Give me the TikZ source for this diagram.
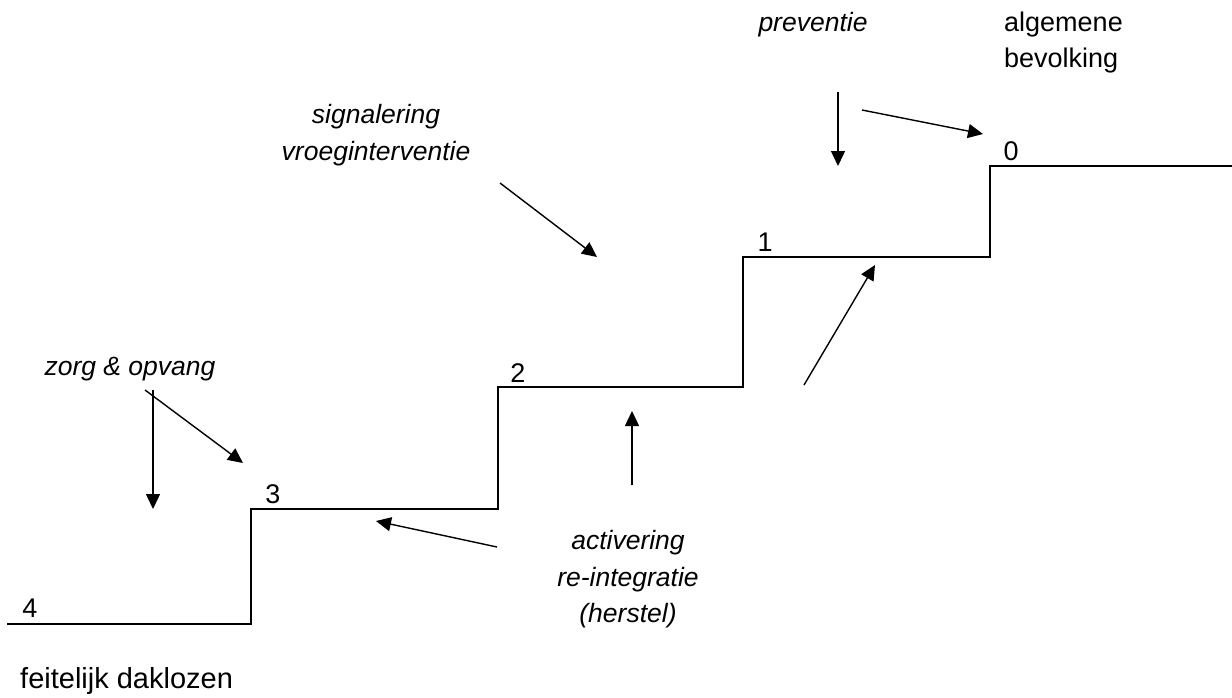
\documentclass[tikz,border=0pt]{standalone}
\usepackage{fontspec}
\setmainfont{Liberation Sans}
\usetikzlibrary{arrows.meta}
\begin{document}
\begin{tikzpicture}[x=1pt,y=-1pt,
  lbl/.style={font=\fontsize{27}{32}\selectfont, inner sep=0pt},
  ilbl/.style={font=\fontsize{26.5}{32}\selectfont\itshape, inner sep=0pt},
  stair/.style={line width=2pt},
  arr/.style={line width=1.4pt, -{Triangle[length=15pt,width=14pt]}}]
\useasboundingbox (0,0) rectangle (1232,697);
% texts
\node[ilbl] (prev) at (813,25) {preventie};
\node[lbl, anchor=west] (alg1) at (1004,25) {algemene};
\node[lbl, anchor=west] (alg2) at (1004,61) {bevolking};
\node[ilbl] (sig1) at (376,117) {signalering};
\node[ilbl] (sig2) at (376,154) {vroeginterventie};
\node[ilbl] (zorg) at (130,369) {zorg \& opvang};
\node[ilbl] (act1) at (628,543) {activering};
\node[ilbl] (act2) at (628,580) {re-integratie};
\node[ilbl] (act3) at (628,616) {(herstel)};
\node[lbl, anchor=west, font=\fontsize{29}{34}\selectfont] (feit) at (20,681) {feitelijk daklozen};
\node[lbl] (n4) at (30,608) {4};
\node[lbl] (n3) at (273,494) {3};
\node[lbl] (n2) at (518,373) {2};
\node[lbl] (n1) at (765,242) {1};
\node[lbl] (n0) at (1011,151) {0};
% stairs
\coordinate (s0) at (7,624);
\coordinate (s1) at (251,624);
\coordinate (s2) at (251,509);
\coordinate (s3) at (498,509);
\coordinate (s4) at (498,387);
\coordinate (s5) at (743,387);
\coordinate (s6) at (743,257);
\coordinate (s7) at (990,257);
\coordinate (s8) at (990,166);
\coordinate (s9) at (1232,166);
\draw[stair] (s0) -- (s1) -- (s2) -- (s3) -- (s4) -- (s5) -- (s6) -- (s7) -- (s8) -- (s9);
% arrows
\coordinate (a1s) at (838,92);  \coordinate (a1e) at (838,166);
\coordinate (a2s) at (862,110); \coordinate (a2e) at (983,134);
\coordinate (a3s) at (500,183); \coordinate (a3e) at (597,257);
\coordinate (a4s) at (804,385); \coordinate (a4e) at (875,265);
\coordinate (a5s) at (153,390); \coordinate (a5e) at (153,509);
\coordinate (a6s) at (145,390); \coordinate (a6e) at (243,463);
\coordinate (a7s) at (632,485); \coordinate (a7e) at (632,411);
\coordinate (a8s) at (497,547); \coordinate (a8e) at (376,521);
\draw[arr] (a1s) -- (a1e);
\draw[arr] (a2s) -- (a2e);
\draw[arr] (a3s) -- (a3e);
\draw[arr] (a4s) -- (a4e);
\draw[arr] (a5s) -- (a5e);
\draw[arr] (a6s) -- (a6e);
\draw[arr] (a7s) -- (a7e);
\draw[arr] (a8s) -- (a8e);
\end{tikzpicture}
\end{document}
